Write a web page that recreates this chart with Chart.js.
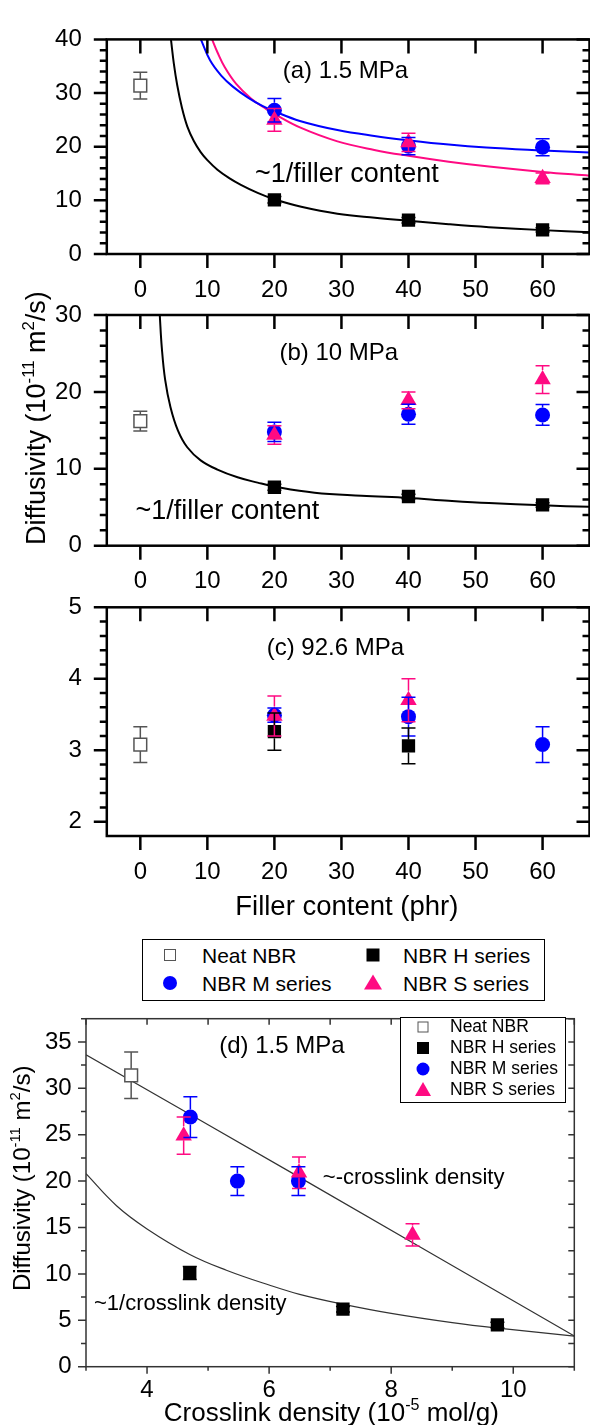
<!DOCTYPE html>
<html>
<head>
<meta charset="utf-8">
<title>Diffusivity vs filler content and crosslink density</title>
<script src="https://cdn.jsdelivr.net/npm/chart.js@4.4.1/dist/chart.umd.min.js"></script>
<style>
  html, body { margin: 0; padding: 0; background: #fff; overflow: hidden; }
  body { position: relative; width: 590px; height: 1425px; font-family: 'Liberation Sans', Arial, sans-serif; color: #000; }
  canvas { position: absolute; left: 0; }
  .box { position: absolute; box-sizing: border-box; border: 1.5px solid #000; background: #fff; }
  .mk { position: absolute; transform: translate(-50%, -50%); }
  .lt { position: absolute; transform: translateY(-50%); line-height: 1; white-space: nowrap; }
</style>
</head>
<body>
<canvas id="panelA" width="600" height="310" style="top:0"></canvas>
<canvas id="panelB" width="600" height="330" style="top:270px"></canvas>
<canvas id="panelC" width="600" height="370" style="top:560px"></canvas>
<canvas id="panelD" width="590" height="435" style="top:990px"></canvas>

<!-- legend for (a)-(c) -->
<div class="box" style="left:142px;top:939px;width:403px;height:62px"></div>
<div class="mk" style="left:170px;top:955px;width:10px;height:10px;border:1.5px solid #555;background:#fff"></div>
<div class="lt" style="left:202px;top:955px;font-size:21px">Neat NBR</div>
<div class="mk" style="left:373px;top:955px;width:13px;height:13px;background:#000"></div>
<div class="lt" style="left:403px;top:955px;font-size:21px">NBR H series</div>
<div class="mk" style="left:170px;top:983px;width:14px;height:14px;border-radius:50%;background:#0000ff"></div>
<div class="lt" style="left:202px;top:983px;font-size:21px">NBR M series</div>
<div class="mk" style="left:373px;top:982px;width:0;height:0;border-left:9px solid transparent;border-right:9px solid transparent;border-bottom:15px solid #ff0a82"></div>
<div class="lt" style="left:403px;top:983px;font-size:21px">NBR S series</div>

<!-- legend for (d) -->
<div class="box" style="left:400px;top:1017px;width:166px;height:86px"></div>
<div class="mk" style="left:423px;top:1027px;width:9px;height:9px;border:1.5px solid #555;background:#fff"></div>
<div class="lt" style="left:450px;top:1027px;font-size:17.5px">Neat NBR</div>
<div class="mk" style="left:423px;top:1048px;width:12px;height:12px;background:#000"></div>
<div class="lt" style="left:450px;top:1048px;font-size:17.5px">NBR H series</div>
<div class="mk" style="left:423px;top:1069px;width:13px;height:13px;border-radius:50%;background:#0000ff"></div>
<div class="lt" style="left:450px;top:1069px;font-size:17.5px">NBR M series</div>
<div class="mk" style="left:423px;top:1089px;width:0;height:0;border-left:8.5px solid transparent;border-right:8.5px solid transparent;border-bottom:14px solid #ff0a82"></div>
<div class="lt" style="left:450px;top:1090px;font-size:17.5px">NBR S series</div>

<script>
const FONT = "'Liberation Sans', Arial, sans-serif";
Chart.defaults.font.family = FONT;
Chart.defaults.color = '#000';

const BLUE = '#0000ff';
const PINK = '#ff0a82';
const GREY = '#555555';

// ---------- (a)-(c): diffusivity (1e-11 m2/s) vs filler content (phr) ----------
const fillerTicks = [0, 10, 20, 30, 40, 50, 60];
const fillerNeat = [0];
const fillerAll = [20, 40, 60];
const fillerTwo = [20, 40];

// (a) 1.5 MPa
const neatA = [31.4], neatAErr = [2.5];
const hA = [10.1, 6.3, 4.5], hAErr = [0.6, 0.5, 0.4];
const mA = [26.8, 20.1, 19.9], mAErr = [2.2, 1.6, 1.6];
const sA = [25.0, 20.8, 14.1], sAErr = [2.1, 1.7, 1.0];
// fitted curves ~1/filler content
const fitAHx = [4.57, 5.0, 5.5, 6.2, 7.0, 8.0, 9.0, 10, 11.5, 13.2, 15, 17.5, 20, 24, 29.4, 35, 40, 46, 52, 60, 67];
const fitAHy = [40, 35.5, 31.5, 27.3, 23.8, 21.0, 19.0, 17.5, 15.7, 14.2, 12.9, 11.4, 10.2, 8.8, 7.5, 6.75, 6.2, 5.55, 5.0, 4.45, 4.05];
const fitAMx = [9.03, 10.4, 12.1, 13.8, 16.0, 18.2, 20, 23.8, 29.4, 34.9, 40, 46, 51.6, 60, 67];
const fitAMy = [40, 36.1, 33.2, 31.2, 29.2, 27.6, 26.6, 24.8, 23.1, 22.0, 21.2, 20.4, 19.85, 19.3, 18.9];
const fitASx = [10.7, 11.5, 12.6, 14.3, 16.5, 18.8, 20, 23.8, 29.4, 34.9, 40, 46, 52, 60, 67];
const fitASy = [40, 37.6, 34.8, 31.7, 29.0, 27.0, 26.1, 23.6, 21.0, 19.4, 18.3, 17.2, 16.3, 15.3, 14.6];

// (b) 10 MPa
const neatB = [16.2], neatBErr = [1.3];
const hB = [7.6, 6.4, 5.3], hBErr = [0.4, 0.3, 0.3];
const mB = [14.8, 17.1, 17.0], mBErr = [1.25, 1.3, 1.35];
const sB = [14.4, 18.9, 21.6], sBErr = [1.2, 1.1, 1.8];
const fitBHx = [2.9, 3.2, 3.7, 4.5, 5.6, 7.0, 9.0, 11.5, 14.5, 17.5, 20, 26, 33, 40, 46, 52, 60, 67];
const fitBHy = [30, 25.8, 21.6, 18.0, 15.0, 12.8, 11.1, 9.9, 8.9, 8.2, 7.7, 6.9, 6.5, 6.2, 5.85, 5.55, 5.25, 5.05];

// (c) 92.6 MPa
const neatC = [3.08], neatCErr = [0.25];
const hC = [3.26, 3.06], hCErr = [0.26, 0.25];
const mC = [3.49, 3.47, 3.08], mCErr = [0.1, 0.27, 0.25];
const sC = [3.48, 3.70], sCErr = [0.28, 0.3];

// ---------- (d) 1.5 MPa: diffusivity vs crosslink density (1e-5 mol/g) ----------
const xlinkTicks = [4, 6, 8, 10];
const xlinkNeat = [3.74], neatD = [31.4], neatDErr = [2.5];
const xlinkH = [4.70, 7.21, 9.74], hD = [10.1, 6.2, 4.5], hDErr = [0.7, 0.3, 0.3];
const xlinkM = [4.71, 5.48, 6.48], mD = [26.9, 20.0, 20.0], mDErr = [2.2, 1.55, 1.55];
const xlinkS = [4.60, 6.49, 8.35], sD = [24.9, 20.9, 14.2], sDErr = [2.0, 1.7, 1.2];
const fitDLinX = [3, 6.5, 11];
const fitDLinY = [33.6, 20.4, 3.3];
const fitDInvX = [3, 3.5, 4, 4.7, 5.3, 6, 6.5, 7.2, 8, 9, 9.75, 11];
const fitDInvY = [20.8, 17.35, 14.85, 12.1, 10.4, 8.8, 7.8, 6.75, 5.75, 4.75, 4.15, 3.3];

// ---------- helpers ----------
const pts = (xs, ys) => xs.map((x, i) => ({ x, y: ys[i] }));
const range = (a, b, step) => { const r = []; for (let v = a; v <= b + 1e-9; v += step) r.push(+v.toFixed(4)); return r; };

const MARK = {
  neat: { pointStyle: 'rect', pointRadius: 9, pointBackgroundColor: '#fff', pointBorderColor: GREY, pointBorderWidth: 1.5, errColor: GREY, gapUp: 6.5, gapDown: 6.5, order: 3 },
  h: { pointStyle: 'rect', pointRadius: 9.4, pointBackgroundColor: '#000', pointBorderColor: '#000', pointBorderWidth: 0, errColor: '#000', gapUp: 6.5, gapDown: 6.5, order: 2 },
  m: { pointStyle: 'circle', pointRadius: 7.5, pointBackgroundColor: BLUE, pointBorderColor: BLUE, pointBorderWidth: 0, errColor: BLUE, gapUp: 7.5, gapDown: 7.5, order: 1 },
  s: { pointStyle: 'triangle', pointRadius: 9.5, pointBackgroundColor: PINK, pointBorderColor: PINK, pointBorderWidth: 0, errColor: PINK, gapUp: 9.5, gapDown: 4.7, order: 0 },
};

function markers(kind, xs, ys, errs) {
  return Object.assign({ data: pts(xs, ys), errors: errs, showLine: false }, MARK[kind]);
}
function fit(xs, ys, color, width) {
  return { data: pts(xs, ys), showLine: true, pointRadius: 0, borderColor: color, borderWidth: width,
           tension: 0.4, fill: false, order: 10 };
}

// error bars drawn over the markers, leaving out the part hidden by their own marker
const errorBars = {
  id: 'errorBars',
  afterDatasetsDraw(chart) {
    const { ctx } = chart;
    const ys = chart.scales.y;
    chart.data.datasets.forEach((ds, i) => {
      if (!ds.errors) return;
      const meta = chart.getDatasetMeta(i);
      ctx.save();
      ctx.strokeStyle = ds.errColor;
      ctx.lineWidth = 1.5;
      ctx.beginPath();
      meta.data.forEach((pt, j) => {
        const e = ds.errors[j];
        if (!e) return;
        const v = ds.data[j].y;
        const top = ys.getPixelForValue(v + e), bot = ys.getPixelForValue(v - e);
        const x = pt.x, y = pt.y;
        if (top < y - ds.gapUp) { ctx.moveTo(x, y - ds.gapUp); ctx.lineTo(x, top); }
        if (bot > y + ds.gapDown) { ctx.moveTo(x, y + ds.gapDown); ctx.lineTo(x, bot); }
        ctx.moveTo(x - 7, top); ctx.lineTo(x + 7, top);
        ctx.moveTo(x - 7, bot); ctx.lineTo(x + 7, bot);
      });
      ctx.stroke();
      ctx.restore();
    });
  }
};

function framePlugin(f) {
  return {
    id: 'frame',
    afterDatasetsDraw(chart) {
      const { ctx, chartArea: a, scales: { x, y } } = chart;
      ctx.save();
      ctx.strokeStyle = f.color;
      ctx.lineWidth = f.width;
      ctx.strokeRect(a.left, a.top, a.right - a.left, a.bottom - a.top);
      ctx.beginPath();
      const xt = (vals, out, inn) => vals.forEach(v => {
        const p = x.getPixelForValue(v);
        ctx.moveTo(p, a.bottom); ctx.lineTo(p, a.bottom + out);
        ctx.moveTo(p, a.top); ctx.lineTo(p, a.top + inn);
      });
      const yt = (vals, out, inn) => vals.forEach(v => {
        const p = y.getPixelForValue(v);
        ctx.moveTo(a.left, p); ctx.lineTo(a.left - out, p);
        ctx.moveTo(a.right, p); ctx.lineTo(a.right - inn, p);
      });
      xt(f.xMajor, f.xLen[0], f.xLen[1]);
      xt(f.xMinor, f.xLen[2], f.xLen[3]);
      yt(f.yMajor, f.yLen[0], f.yLen[1]);
      yt(f.yMinor, f.yLen[2], f.yLen[3]);
      ctx.stroke();
      ctx.restore();
    }
  };
}

// text with superscripts: parts = [[text, isSup], ...]
function drawRich(ctx, parts, x, y, size, rotate, align) {
  ctx.save();
  ctx.translate(x, y);
  if (rotate) ctx.rotate(-Math.PI / 2);
  const fontOf = sup => `${sup ? size * 0.62 : size}px ${FONT}`;
  const widths = parts.map(([t, sup]) => { ctx.font = fontOf(sup); return ctx.measureText(t).width; });
  let cx = align === 'left' ? 0 : -widths.reduce((s, w) => s + w, 0) / 2;
  ctx.textAlign = 'left';
  ctx.textBaseline = 'middle';
  ctx.fillStyle = '#000';
  parts.forEach(([t, sup], i) => {
    ctx.font = fontOf(sup);
    ctx.fillText(t, cx, sup ? -size * 0.3 : 0);
    cx += widths[i];
  });
  ctx.restore();
}

function notesPlugin(items) {
  return {
    id: 'notes',
    afterDraw(chart) {
      const { ctx, scales: { x, y } } = chart;
      items.forEach(it => drawRich(ctx, it.parts, x.getPixelForValue(it.x), y.getPixelForValue(it.y), it.size, it.rotate, it.align));
    }
  };
}

function buildChart(id, o) {
  const canvas = document.getElementById(id);
  return new Chart(canvas, {
    type: 'scatter',
    data: { datasets: o.datasets },
    options: {
      responsive: false,
      animation: false,
      events: [],
      layout: { padding: { left: 0, top: o.top, right: canvas.width - o.right, bottom: 0 } },
      plugins: { legend: { display: false }, tooltip: { enabled: false } },
      scales: {
        x: {
          type: 'linear', position: 'bottom', min: o.xMin, max: o.xMax,
          grid: { display: false, drawTicks: false }, border: { display: false },
          ticks: { font: { size: 24 }, padding: o.xPad, autoSkip: false, maxRotation: 0 },
          afterBuildTicks: s => { s.ticks = o.xTicks.map(v => ({ value: v })); },
          afterFit: s => { s.height = canvas.height - o.bottom; }
        },
        y: {
          type: 'linear', position: 'left', min: o.yMin, max: o.yMax,
          grid: { display: false, drawTicks: false }, border: { display: false },
          ticks: { font: { size: 24 }, padding: o.yPad, autoSkip: false },
          afterBuildTicks: s => { s.ticks = o.yTicks.map(v => ({ value: v })); },
          afterFit: s => { s.width = o.left; }
        }
      }
    },
    plugins: [errorBars, framePlugin(o.frame), notesPlugin(o.notes)]
  });
}

const frameABC = (yMajor, yMinor) => ({
  color: '#000', width: 2.5,
  xMajor: fillerTicks, xMinor: [], xLen: [14, 14, 0, 0],
  yMajor, yMinor, yLen: [13, 13, 7, 7]
});

const yTitle = [['Diffusivity (10', false], ['-11', true], [' m', false], ['2', true], ['/s)', false]];

// (a)
buildChart('panelA', {
  left: 106.8, right: 592.2, top: 23.5, bottom: 254,
  xMin: -5, xMax: 67, yMin: 0, yMax: 40, xPad: 21.5, yPad: 25,
  xTicks: fillerTicks, yTicks: [0, 10, 20, 30, 40],
  frame: frameABC([0, 10, 20, 30, 40], range(2, 38, 2)),
  datasets: [
    markers('s', fillerAll, sA, sAErr),
    markers('m', fillerAll, mA, mAErr),
    markers('h', fillerAll, hA, hAErr),
    markers('neat', fillerNeat, neatA, neatAErr),
    fit(fitAHx, fitAHy, '#000', 2),
    fit(fitAMx, fitAMy, BLUE, 2),
    fit(fitASx, fitASy, PINK, 2)
  ],
  notes: [
    { parts: [['(a) 1.5 MPa', false]], x: 30.6, y: 34.0, size: 24 },
    { parts: [['~1/filler content', false]], x: 17.1, y: 14.9, size: 27, align: 'left' }
  ]
});

// (b)
buildChart('panelB', {
  left: 106.8, right: 592.2, top: 45, bottom: 275.7,
  xMin: -5, xMax: 67, yMin: 0, yMax: 30, xPad: 21.5, yPad: 25,
  xTicks: fillerTicks, yTicks: [0, 10, 20, 30],
  frame: frameABC([0, 10, 20, 30], range(2, 28, 2)),
  datasets: [
    markers('s', fillerAll, sB, sBErr),
    markers('m', fillerAll, mB, mBErr),
    markers('h', fillerAll, hB, hBErr),
    markers('neat', fillerNeat, neatB, neatBErr),
    fit(fitBHx, fitBHy, '#000', 2)
  ],
  notes: [
    { parts: [['(b) 10 MPa', false]], x: 29.6, y: 25.0, size: 24 },
    { parts: [['~1/filler content', false]], x: -0.73, y: 4.42, size: 27, align: 'left' },
    { parts: yTitle, x: -15.35, y: 16.6, size: 27, rotate: true }
  ]
});

// (c)
buildChart('panelC', {
  left: 106.8, right: 592.2, top: 47.3, bottom: 276,
  xMin: -5, xMax: 67, yMin: 1.8, yMax: 5, xPad: 21.5, yPad: 25,
  xTicks: fillerTicks, yTicks: [2, 3, 4, 5],
  frame: frameABC([2, 3, 4, 5], range(2.2, 4.8, 0.2).filter(v => Math.abs(v - Math.round(v)) > 0.01)),
  datasets: [
    markers('s', fillerTwo, sC, sCErr),
    markers('m', fillerAll, mC, mCErr),
    markers('h', fillerTwo, hC, hCErr),
    markers('neat', fillerNeat, neatC, neatCErr)
  ],
  notes: [
    { parts: [['(c) 92.6 MPa', false]], x: 29.1, y: 4.42, size: 24 },
    { parts: [['Filler content (phr)', false]], x: 30.8, y: 0.80, size: 27.5 }
  ]
});

// (d)
buildChart('panelD', {
  left: 86, right: 574.3, top: 16.7, bottom: 376.7,
  xMin: 3, xMax: 11, yMin: 0, yMax: 37.5, xPad: 9, yPad: 14.3,
  xTicks: xlinkTicks, yTicks: [0, 5, 10, 15, 20, 25, 30, 35],
  frame: {
    color: '#333', width: 1.5,
    xMajor: xlinkTicks, xMinor: [3, 5, 7, 9, 11], xLen: [7, 6, 4, 6],
    yMajor: [0, 5, 10, 15, 20, 25, 30, 35], yMinor: range(2.5, 37.5, 5), yLen: [8, 6, 5, 6]
  },
  datasets: [
    markers('s', xlinkS, sD, sDErr),
    markers('m', xlinkM, mD, mDErr),
    markers('h', xlinkH, hD, hDErr),
    markers('neat', xlinkNeat, neatD, neatDErr),
    fit(fitDLinX, fitDLinY, '#333', 1.2),
    fit(fitDInvX, fitDInvY, '#333', 1.2)
  ],
  notes: [
    { parts: [['(d) 1.5 MPa', false]], x: 6.21, y: 34.55, size: 24 },
    { parts: [['~-crosslink density', false]], x: 6.88, y: 20.3, size: 22, align: 'left' },
    { parts: [['~1/crosslink density', false]], x: 3.13, y: 6.77, size: 22, align: 'left' },
    { parts: [['Crosslink density (10', false], ['-5', true], [' mol/g)', false]], x: 7.02, y: -5.03, size: 26 },
    { parts: yTitle, x: 1.97, y: 20.3, size: 24, rotate: true }
  ]
});
</script>
</body>
</html>
